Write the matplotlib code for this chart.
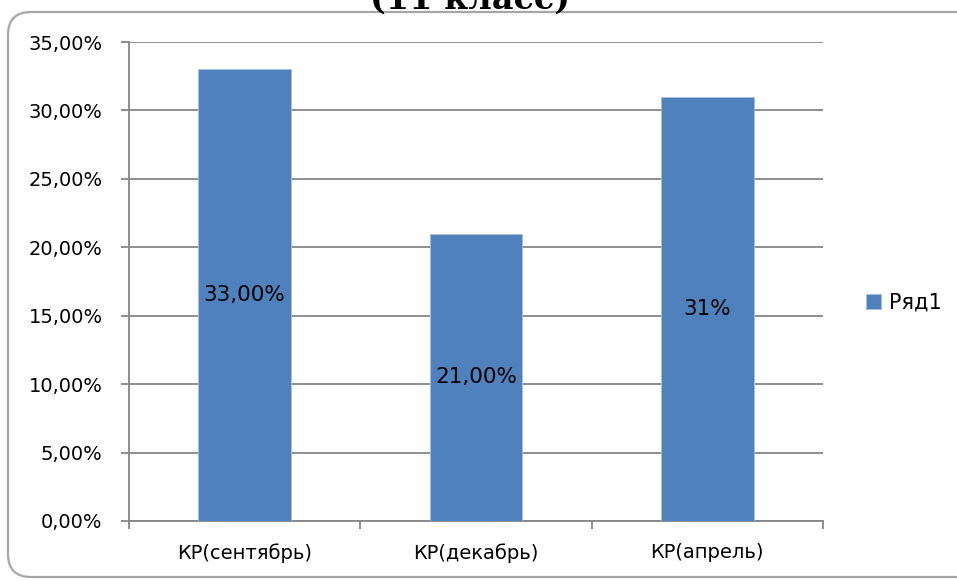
import numpy as np
import matplotlib.pyplot as plt
from matplotlib.patches import FancyBboxPatch
from matplotlib.ticker import FuncFormatter, MultipleLocator

categories = ['КР(сентябрь)', 'КР(декабрь)', 'КР(апрель)']
values = [33.0, 21.0, 31.0]
bar_labels = ['33,00%', '21,00%', '31%']
series_name = 'Ряд1'
title = '(11 класс)'

grid_color = '#868686'
bar_color = '#4F81BD'

fig = plt.figure(figsize=(9.57, 5.81), dpi=100)
fig.patch.set_facecolor('white')

# rounded chart frame (runs off the right edge like the original)
frame = FancyBboxPatch((8 / 957, 4 / 581), 990 / 957, 565 / 581,
                       boxstyle='round,pad=0,rounding_size=0.024',
                       transform=fig.transFigure, facecolor='none',
                       edgecolor='#a6a6a6', linewidth=1.6, mutation_aspect=957 / 581)
fig.patches.append(frame)

fig.text(470 / 957, 1 - 9 / 581, title, ha='center', va='baseline',
         fontsize=24, fontweight='bold', family='DejaVu Serif')

ax = fig.add_axes([129 / 957, 60 / 581, 694 / 957, 479 / 581])
ind = np.arange(len(categories))
bars = ax.bar(ind, values, 0.4, color=bar_color, edgecolor='#a9c0e0',
              linewidth=0.6, label=series_name, zorder=3)

for rect, lab in zip(bars, bar_labels):
    ax.text(rect.get_x() + rect.get_width() / 2, rect.get_height() / 2, lab,
            ha='center', va='center', fontsize=15.5, zorder=4)

ax.set_xlim(-0.5, 2.5)
ax.set_ylim(0, 35)
ax.yaxis.set_major_locator(MultipleLocator(5))
ax.yaxis.set_major_formatter(FuncFormatter(lambda v, p: ('%.2f%%' % v).replace('.', ',')))
ax.yaxis.grid(True, color=grid_color, linewidth=1.3, zorder=0)

ax.set_xticks(ind)
ax.set_xticklabels(categories)
ax.set_xticks([-0.5, 0.5, 1.5, 2.5], minor=True)
ax.tick_params(axis='x', which='major', length=0, labelsize=14, pad=16)
ax.tick_params(axis='x', which='minor', length=6, width=1.3, color=grid_color, direction='out')
ax.tick_params(axis='y', length=6, width=1.3, color=grid_color, labelsize=14, pad=13)

for s in ['top', 'right']:
    ax.spines[s].set_visible(False)
for s in ['left', 'bottom']:
    ax.spines[s].set_color(grid_color)
    ax.spines[s].set_linewidth(1.3)

ax.legend(loc='center left', bbox_to_anchor=(1.035, 0.455), frameon=False,
          fontsize=15, handlelength=0.7, handleheight=0.7, handletextpad=0.4)

fig.savefig('out.png', dpi=100)
